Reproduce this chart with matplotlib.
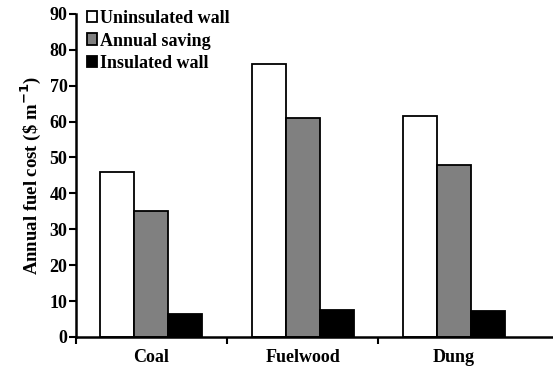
import matplotlib
matplotlib.use("Agg")
import matplotlib.pyplot as plt
import numpy as np

categories = ["Coal", "Fuelwood", "Dung"]
uninsulated = [46, 76, 61.5]
saving = [35, 61, 48]
insulated = [6.4, 7.6, 7.1]
series_names = ["Uninsulated wall", "Annual saving", "Insulated wall"]
colors = ["white", "#808080", "black"]

plt.rcParams['font.family'] = ['Liberation Serif', 'DejaVu Serif']
plt.rcParams['font.weight'] = 'bold'

fig = plt.figure(figsize=(5.53, 3.74), dpi=100)
ax = fig.add_axes([0.137, 0.099, 0.87, 0.864])

x = np.arange(len(categories))
w = 0.225
for i, (vals, name, c) in enumerate(zip([uninsulated, saving, insulated], series_names, colors)):
    ax.bar(x + (i - 1) * w, vals, width=w, color=c, edgecolor="black", linewidth=1.3, label=name)

ax.set_ylim(0, 90)
ax.set_xlim(-0.5, 2.68)
ax.set_yticks(range(0, 91, 10))
ax.set_xticks(x)
ax.set_xticklabels(categories, fontsize=13, fontweight='bold')
ax.set_xticks([-0.5, 0.5, 1.5], minor=True)
ax.tick_params(axis='x', which='major', length=0, pad=9)
ax.tick_params(axis='x', which='minor', length=5, width=1.5, direction='out')
ax.tick_params(axis='y', length=5, width=1.5, direction='out', labelsize=13, pad=1)
for lab in ax.get_yticklabels():
    lab.set_fontweight('bold')
ax.set_ylabel("Annual fuel cost (\\$ m$^{\\mathbf{-1}}$)", fontsize=13.5, fontweight='bold', labelpad=5)

for s in ['top', 'right']:
    ax.spines[s].set_visible(False)
for s in ['left', 'bottom']:
    ax.spines[s].set_linewidth(1.8)

leg = ax.legend(loc='upper left', bbox_to_anchor=(0.0, 1.045), frameon=False, fontsize=13,
                handlelength=0.6, handleheight=0.6, handletextpad=0.15, labelspacing=0.3,
                borderaxespad=0.2)
for t in leg.get_texts():
    t.set_fontweight('bold')

fig.savefig("out.png", dpi=100)
